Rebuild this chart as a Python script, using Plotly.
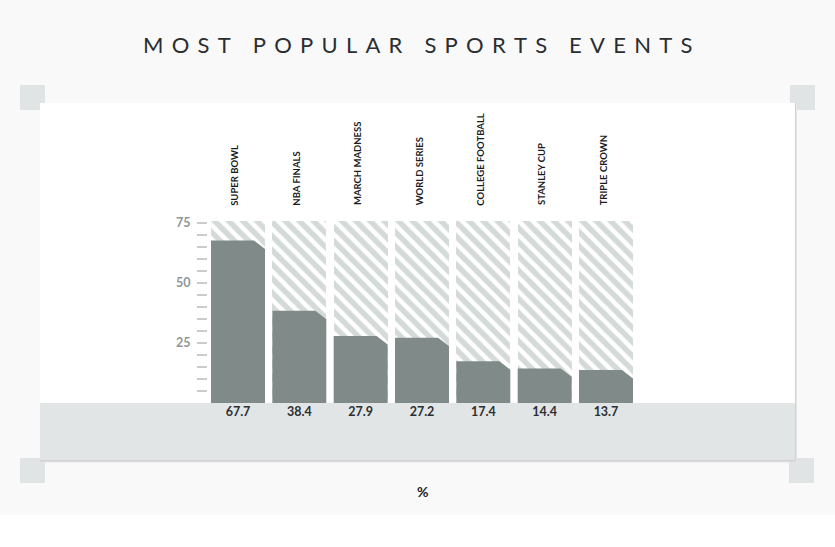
import plotly.graph_objects as go

# chart data
events = ["SUPER BOWL", "NBA FINALS", "MARCH MADNESS", "WORLD SERIES",
          "COLLEGE FOOTBALL", "STANLEY CUP", "TRIPLE CROWN"]
share = [67.7, 38.4, 27.9, 27.2, 17.4, 14.4, 13.7]
scale_max = 76
tick_vals = list(range(5, 80, 5))
tick_text = [str(v) if v % 25 == 0 else "" for v in tick_vals]

W, H = 835, 547
FONT = "Lato"
BAR = "#7f8a89"
HATCH = "#aab5b2"


def px(x):
    return x / W


def py(y):
    return 1 - y / H


idx = list(range(len(events)))
bw = 0.88      # bar width in category units
cut_x = 0.18   # chamfer on the top-right corner
cut_y = 3.5

# solid bars as polygons with a clipped corner
bx, by = [], []
for i, v in zip(idx, share):
    x0, x1 = i - bw / 2, i + bw / 2
    bx += [x0, x0, x1 - cut_x, x1, x1, x0, None]
    by += [0, v, v, v - cut_y, 0, 0, None]

fig = go.Figure()

# hatched background columns
fig.add_trace(go.Bar(
    x=idx, y=[scale_max] * len(idx), width=bw,
    marker=dict(color="white", line_width=0,
                pattern=dict(shape="\\", fgcolor=HATCH, bgcolor="white",
                             size=10, solidity=0.55, fillmode="overlay")),
    hoverinfo="skip", showlegend=False,
))

fig.add_trace(go.Scatter(
    x=bx, y=by, mode="lines", fill="toself", fillcolor=BAR,
    line=dict(width=0, color=BAR), hoverinfo="skip", showlegend=False,
))

# value labels in the grey band
fig.add_trace(go.Scatter(
    x=idx, y=[-4] * len(idx), mode="text",
    text=[f"{v:.1f}" for v in share],
    textfont=dict(family=FONT, size=12.5, color="#2b2f31", weight="bold"),
    hoverinfo="skip", showlegend=False,
))

for i, name in zip(idx, events):
    fig.add_annotation(x=i - 0.05, y=81.5, text=name, textangle=-90,
                       showarrow=False, xanchor="center", yanchor="bottom",
                       font=dict(family=FONT, size=9.5, color="#1a1d1f", weight="bold"))

shapes = [
    # page and footer
    dict(type="rect", xref="paper", yref="paper", x0=0, x1=1, y0=0, y1=py(515),
         fillcolor="white", line_width=0, layer="below"),
    # corner brackets
    dict(type="rect", xref="paper", yref="paper", x0=px(20), x1=px(45), y0=py(110), y1=py(85),
         fillcolor="#e1e4e5", line_width=0, layer="below"),
    dict(type="rect", xref="paper", yref="paper", x0=px(790), x1=px(815), y0=py(110), y1=py(85),
         fillcolor="#e1e4e5", line_width=0, layer="below"),
    dict(type="rect", xref="paper", yref="paper", x0=px(20), x1=px(45), y0=py(483), y1=py(458),
         fillcolor="#e1e4e5", line_width=0, layer="below"),
    dict(type="rect", xref="paper", yref="paper", x0=px(789), x1=px(814), y0=py(483), y1=py(458),
         fillcolor="#e1e4e5", line_width=0, layer="below"),
    # card shadow + card
    dict(type="rect", xref="paper", yref="paper", x0=px(41), x1=px(797), y0=py(462.5), y1=py(104),
         fillcolor="#e6e6e6", line_width=0, layer="below"),
    dict(type="rect", xref="paper", yref="paper", x0=px(40), x1=px(796), y0=py(461.5), y1=py(103),
         fillcolor="#d2d2d2", line_width=0, layer="below"),
    dict(type="rect", xref="paper", yref="paper", x0=px(40), x1=px(795), y0=py(460), y1=py(103),
         fillcolor="white", line_width=0, layer="below"),
    # grey band under the bars
    dict(type="rect", xref="paper", yref="y", x0=px(40), x1=px(795), y0=-23.75, y1=0,
         fillcolor="#e2e5e6", line_width=0, layer="below"),
]

sp = "\u2009\u2009\u2009"
gap = "\u2003\u2009\u2009"
title = gap.join(sp.join(w) for w in ["MOST", "POPULAR", "SPORTS", "EVENTS"])
fig.add_annotation(xref="paper", yref="paper", x=0.5, y=py(45), text=title,
                   showarrow=False, xanchor="center", yanchor="middle",
                   font=dict(family=FONT, size=22, color="#2a2e30"))
fig.add_annotation(xref="paper", yref="paper", x=px(422), y=py(491), text="%",
                   showarrow=False, xanchor="center", yanchor="middle",
                   font=dict(family=FONT, size=14, color="#1f2224", weight="bold"))

pitch = 61.33
fig.update_layout(
    width=W, height=H,
    margin=dict(l=0, r=0, t=0, b=0),
    paper_bgcolor="#f9f9f9", plot_bgcolor="rgba(0,0,0,0)",
    shapes=shapes, bargap=0,
    xaxis=dict(domain=[px(40), px(795)],
               range=[-(238 - 40) / pitch, 6 + (795 - 606) / pitch],
               visible=False, fixedrange=True),
    yaxis=dict(domain=[py(460), py(103)], range=[-23.75, 125],
               anchor="free", position=px(207),
               tickvals=tick_vals, ticktext=tick_text,
               ticks="outside", ticklen=10, tickwidth=2, tickcolor="#c9cdcd",
               ticklabelstandoff=4,
               tickfont=dict(family=FONT, size=12.5, color="#8e9799", weight="bold"),
               showgrid=False, zeroline=False, showline=False, fixedrange=True),
)

fig.write_html("out.html", config={"displayModeBar": False},
               post_script="document.body.style.margin='0';document.body.style.overflow='hidden';")
